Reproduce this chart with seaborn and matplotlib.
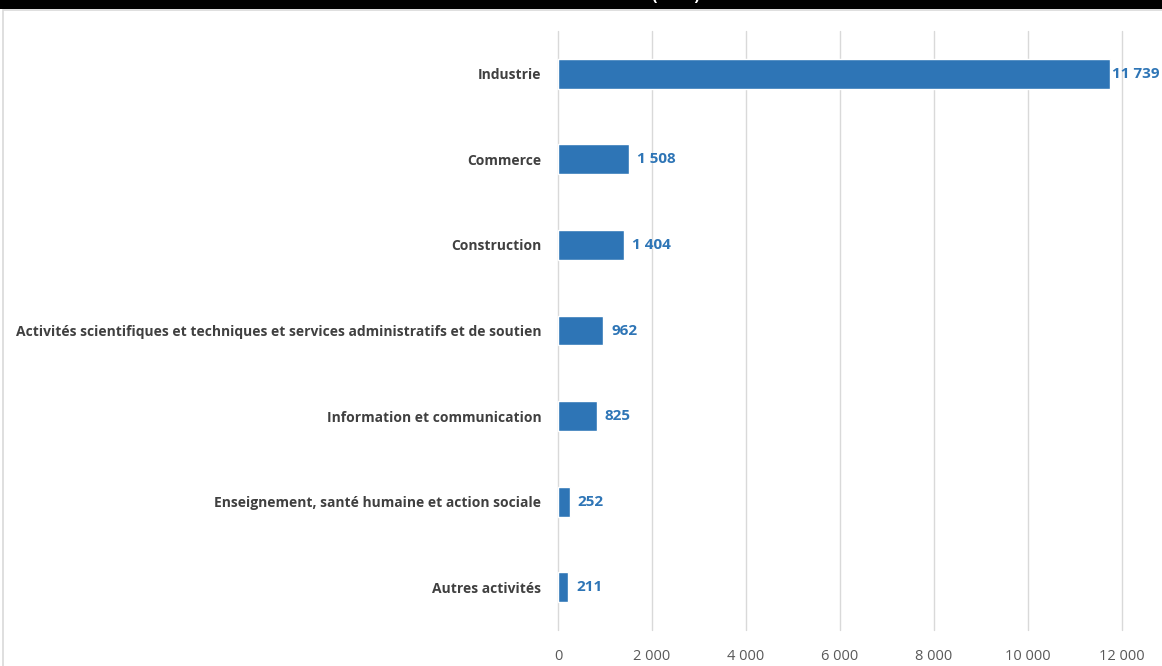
import matplotlib
matplotlib.use("Agg")
import matplotlib.pyplot as plt
from matplotlib.patches import Rectangle
import pandas as pd
import seaborn as sns

categories = [
    "Industrie",
    "Commerce",
    "Construction",
    "Activités scientifiques et techniques et services administratifs et de soutien",
    "Information et communication",
    "Enseignement, santé humaine et action sociale",
    "Autres activités",
]
values = [11739, 1508, 1404, 962, 825, 252, 211]
xticks = [0, 2000, 4000, 6000, 8000, 10000, 12000]

bar_color = "#2E75B6"
text_grey = "#404040"

sns.set_theme(style="white")
plt.rcParams["font.family"] = ["Open Sans", "DejaVu Sans"]


def fr(n):
    return f"{n:,}".replace(",", " ")


df = pd.DataFrame({"secteur": categories, "valeur": values})

W, H = 1162, 666
fig = plt.figure(figsize=(W / 100, H / 100), dpi=100)
# axes spans x 558..1122 (0..12000) and y 31..630
ax = fig.add_axes([558 / W, 1 - 630 / H, (1122 - 558) / W, (630 - 31) / H])

sns.barplot(data=df, x="valeur", y="secteur", color=bar_color, width=0.35,
            saturation=1, ax=ax)

ax.set_xlim(0, 12000)
ax.set_ylim(6.5, -0.5)
ax.set_xticks(xticks)
ax.set_xticklabels([fr(t) for t in xticks], fontsize=10.5, color="#595959")
ax.tick_params(axis="x", length=0, pad=14)
ax.tick_params(axis="y", length=0, pad=12)
for lab in ax.get_yticklabels():
    lab.set_fontsize(10)
    lab.set_fontweight("bold")
    lab.set_color(text_grey)
ax.set_xlabel("")
ax.set_ylabel("")
ax.grid(axis="x", color="#D9D9D9", linewidth=1)
for gl in ax.get_xgridlines():
    gl.set_clip_on(False)
ax.set_axisbelow(True)
for s in ax.spines.values():
    s.set_visible(False)

# labels sit a bit right of the bar end; the long bar gets a tighter gap
for i, v in enumerate(values):
    gap = 40 if v > 10000 else 170
    ax.text(v + gap, i, fr(v), va="center", ha="left", fontsize=11,
            fontweight="bold", color=bar_color)

# black title band at the top (title cut off)
fig.patches.append(Rectangle((0, 1 - 9 / H), 1, 9 / H, transform=fig.transFigure,
                             facecolor="black", edgecolor="none", zorder=5))
fig.text(676 / W, 1 - 4 / H, "(2019)", ha="center", va="bottom",
         color="white", fontsize=12, fontweight="bold", zorder=6)
# light frame of the chart area
fig.patches.append(Rectangle((3 / W, -0.01), 1.0, 1 - 10 / H + 0.01,
                             transform=fig.transFigure, facecolor="none",
                             edgecolor="#D9D9D9", linewidth=1.2, zorder=4))

fig.savefig("out.png", dpi=100, facecolor="white")
